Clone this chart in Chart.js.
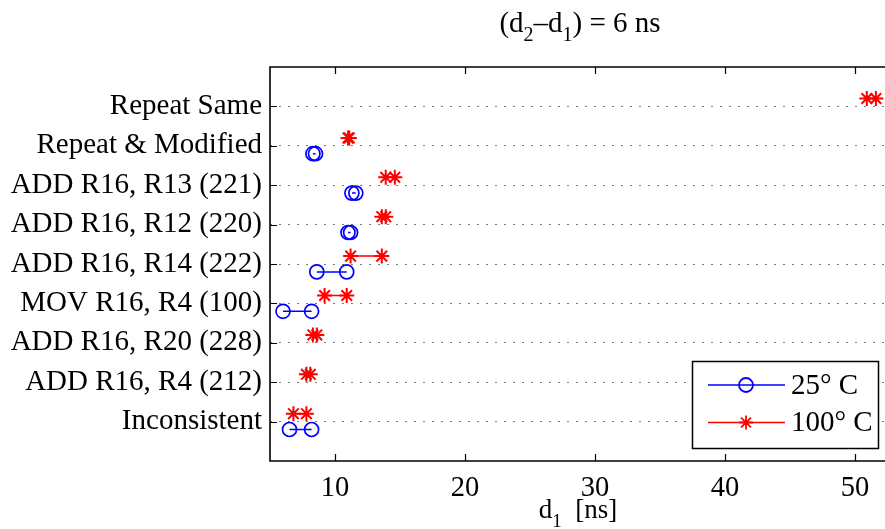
<!DOCTYPE html>
<html lang="en">
<head>
    <meta charset="UTF-8">
    <title>d1 per instruction, (d2-d1) = 6 ns</title>
    <script src="https://cdn.jsdelivr.net/npm/chart.js@4.4.1/dist/chart.umd.min.js"></script>
    <style>
        html, body {
            margin: 0;
            padding: 0;
            background: #fff;
        }
        .wrap {
            position: relative;
            width: 885px;
            height: 529px;
        }
    </style>
</head>
<body>
    <div class="wrap"><canvas id="chart"></canvas></div>

    <script>
        // categories, top to bottom
        const categories = [
            'Repeat Same',
            'Repeat & Modified',
            'ADD R16, R13 (221)',
            'ADD R16, R12 (220)',
            'ADD R16, R14 (222)',
            'MOV R16, R4 (100)',
            'ADD R16, R20 (228)',
            'ADD R16, R4 (212)',
            'Inconsistent'
        ];

        // d1 [ns], two readings per category
        const cool25Lo = [null, 8.3, 11.3, 11.0, 8.6, 6.0, null, null, 6.5];
        const cool25Hi = [null, 8.5, 11.6, 11.2, 10.9, 8.2, null, null, 8.2];
        const hot100Lo = [50.9, 11.0, 13.9, 13.6, 11.2, 9.2, 8.3, 7.8, 6.8];
        const hot100Hi = [51.6, 11.1, 14.6, 13.9, 13.6, 10.9, 8.6, 8.1, 7.8];

        const xTicks = [10, 20, 30, 40, 50];
        const seriesNames = ['25\u00B0 C', '100\u00B0 C'];

        const FONT = 'Liberation Serif, Times New Roman, serif';
        const BLUE = '#0000ff';
        const RED = '#ff0000';

        // each category gets its own short segment, broken by a null point
        function buildPoints(lo, hi, shift) {
            const pts = [];
            categories.forEach((c, i) => {
                if (lo[i] == null) return;
                const y = categories.length - i + shift;
                pts.push({x: lo[i], y: y}, {x: hi[i], y: y}, {x: null, y: null});
            });
            return pts;
        }

        function drawRich(ctx, parts, cx, baseline, size, subSize) {
            const big = size + 'px ' + FONT;
            const small = subSize + 'px ' + FONT;
            let total = 0;
            parts.forEach(p => {
                ctx.font = p.sub ? small : big;
                p.w = ctx.measureText(p.t).width;
                total += p.w;
            });
            let x = cx - total / 2;
            ctx.fillStyle = '#000';
            ctx.textBaseline = 'alphabetic';
            ctx.textAlign = 'left';
            parts.forEach(p => {
                ctx.font = p.sub ? small : big;
                ctx.fillText(p.t, x, baseline + (p.sub ? 9 : 0));
                x += p.w;
            });
        }

        function drawCircle(ctx, x, y) {
            ctx.beginPath();
            ctx.arc(x, y, 7, 0, Math.PI * 2);
            ctx.stroke();
        }

        function drawStar(ctx, x, y) {
            const r = 7;
            const d = r * Math.SQRT1_2;
            ctx.beginPath();
            ctx.moveTo(x - r, y); ctx.lineTo(x + r, y);
            ctx.moveTo(x, y - r); ctx.lineTo(x, y + r);
            ctx.moveTo(x - d, y - d); ctx.lineTo(x + d, y + d);
            ctx.moveTo(x - d, y + d); ctx.lineTo(x + d, y - d);
            ctx.stroke();
        }

        const decorPlugin = {
            id: 'decor',
            afterDraw(chart) {
                const ctx = chart.ctx;
                const a = chart.chartArea;
                const xs = chart.scales.x;
                const ys = chart.scales.y;
                ctx.save();

                // axes box (right side runs off the picture)
                ctx.strokeStyle = '#000';
                ctx.lineWidth = 1.6;
                ctx.beginPath();
                ctx.moveTo(a.right + 5, a.top);
                ctx.lineTo(a.left, a.top);
                ctx.lineTo(a.left, a.bottom);
                ctx.lineTo(a.right + 5, a.bottom);
                ctx.stroke();

                // inward tick marks
                ctx.lineWidth = 1.2;
                ctx.beginPath();
                xTicks.forEach(v => {
                    const px = Math.round(xs.getPixelForValue(v)) + 0.5;
                    ctx.moveTo(px, a.bottom); ctx.lineTo(px, a.bottom - 7);
                    ctx.moveTo(px, a.top); ctx.lineTo(px, a.top + 7);
                });
                categories.forEach((c, i) => {
                    const py = Math.round(ys.getPixelForValue(categories.length - i)) + 0.5;
                    ctx.moveTo(a.left, py); ctx.lineTo(a.left + 7, py);
                });
                ctx.stroke();

                // title and x label with subscripts
                drawRich(ctx, [
                    {t: '(d'}, {t: '2', sub: true}, {t: '\u2013d'}, {t: '1', sub: true}, {t: ') = 6 ns'}
                ], 580, 32, 29, 20);
                drawRich(ctx, [
                    {t: 'd'}, {t: '1', sub: true}, {t: '  [ns]'}
                ], 578, 518, 27, 19);

                // legend
                const lx = 692.5, ly = 361.5, lw = 186, lh = 87;
                ctx.fillStyle = '#fff';
                ctx.fillRect(lx, ly, lw, lh);
                ctx.strokeStyle = '#000';
                ctx.lineWidth = 1.5;
                ctx.strokeRect(lx, ly, lw, lh);

                const rows = [
                    {y: 385, color: BLUE, mark: drawCircle, label: seriesNames[0]},
                    {y: 422.5, color: RED, mark: drawStar, label: seriesNames[1]}
                ];
                rows.forEach(r => {
                    ctx.strokeStyle = r.color;
                    ctx.lineWidth = 1.4;
                    ctx.beginPath();
                    ctx.moveTo(708, r.y); ctx.lineTo(785, r.y);
                    ctx.stroke();
                    ctx.lineWidth = 1.8;
                    r.mark(ctx, 746, r.y);
                    ctx.fillStyle = '#000';
                    ctx.font = '29px ' + FONT;
                    ctx.textAlign = 'left';
                    ctx.textBaseline = 'middle';
                    ctx.fillText(r.label, 791, r.y + 1);
                });

                ctx.restore();
            }
        };

        const chart = new Chart(document.getElementById('chart'), {
            type: 'line',
            data: {
                datasets: [{
                    label: seriesNames[0],
                    data: buildPoints(cool25Lo, cool25Hi, -0.2),
                    borderColor: BLUE,
                    borderWidth: 1.5,
                    pointStyle: 'circle',
                    pointRadius: 7,
                    pointBorderWidth: 1.7,
                    pointBorderColor: BLUE,
                    pointBackgroundColor: 'rgba(0,0,0,0)',
                    spanGaps: false,
                    tension: 0
                }, {
                    label: seriesNames[1],
                    data: buildPoints(hot100Lo, hot100Hi, 0.2),
                    borderColor: RED,
                    borderWidth: 1.5,
                    pointStyle: 'star',
                    pointRadius: 7.5,
                    pointBorderWidth: 2,
                    pointBorderColor: RED,
                    pointBackgroundColor: RED,
                    spanGaps: false,
                    tension: 0
                }]
            },
            options: {
                responsive: true,
                maintainAspectRatio: false,
                animation: false,
                layout: {
                    autoPadding: false,
                    padding: {top: 67, right: 0, bottom: 0, left: 0}
                },
                plugins: {
                    legend: {display: false},
                    title: {display: false},
                    tooltip: {enabled: false}
                },
                scales: {
                    x: {
                        type: 'linear',
                        min: 5,
                        max: 52.3,
                        afterBuildTicks: (scale) => {
                            scale.ticks = xTicks.map(v => ({value: v}));
                        },
                        afterFit: (scale) => {
                            scale.height = 68;
                            scale.paddingLeft = 0;
                            scale.paddingRight = 0;
                        },
                        grid: {display: false, drawTicks: false},
                        border: {display: false},
                        ticks: {
                            color: '#000',
                            padding: 10,
                            maxRotation: 0,
                            font: {family: FONT, size: 28.5}
                        }
                    },
                    y: {
                        type: 'linear',
                        min: 0,
                        max: 10,
                        afterBuildTicks: (scale) => {
                            scale.ticks = categories.map((c, i) => ({value: categories.length - i}));
                        },
                        afterFit: (scale) => {
                            scale.width = 270;
                            scale.paddingTop = 0;
                            scale.paddingBottom = 0;
                        },
                        grid: {
                            color: '#7a7a7a',
                            lineWidth: 1,
                            drawTicks: false,
                            borderDash: [2, 7]
                        },
                        border: {display: false, dash: [2, 7]},
                        ticks: {
                            color: '#000',
                            padding: 8,
                            font: {family: FONT, size: 29},
                            callback: (v) => categories[categories.length - v]
                        }
                    }
                }
            },
            plugins: [decorPlugin]
        });
    </script>
</body>
</html>
